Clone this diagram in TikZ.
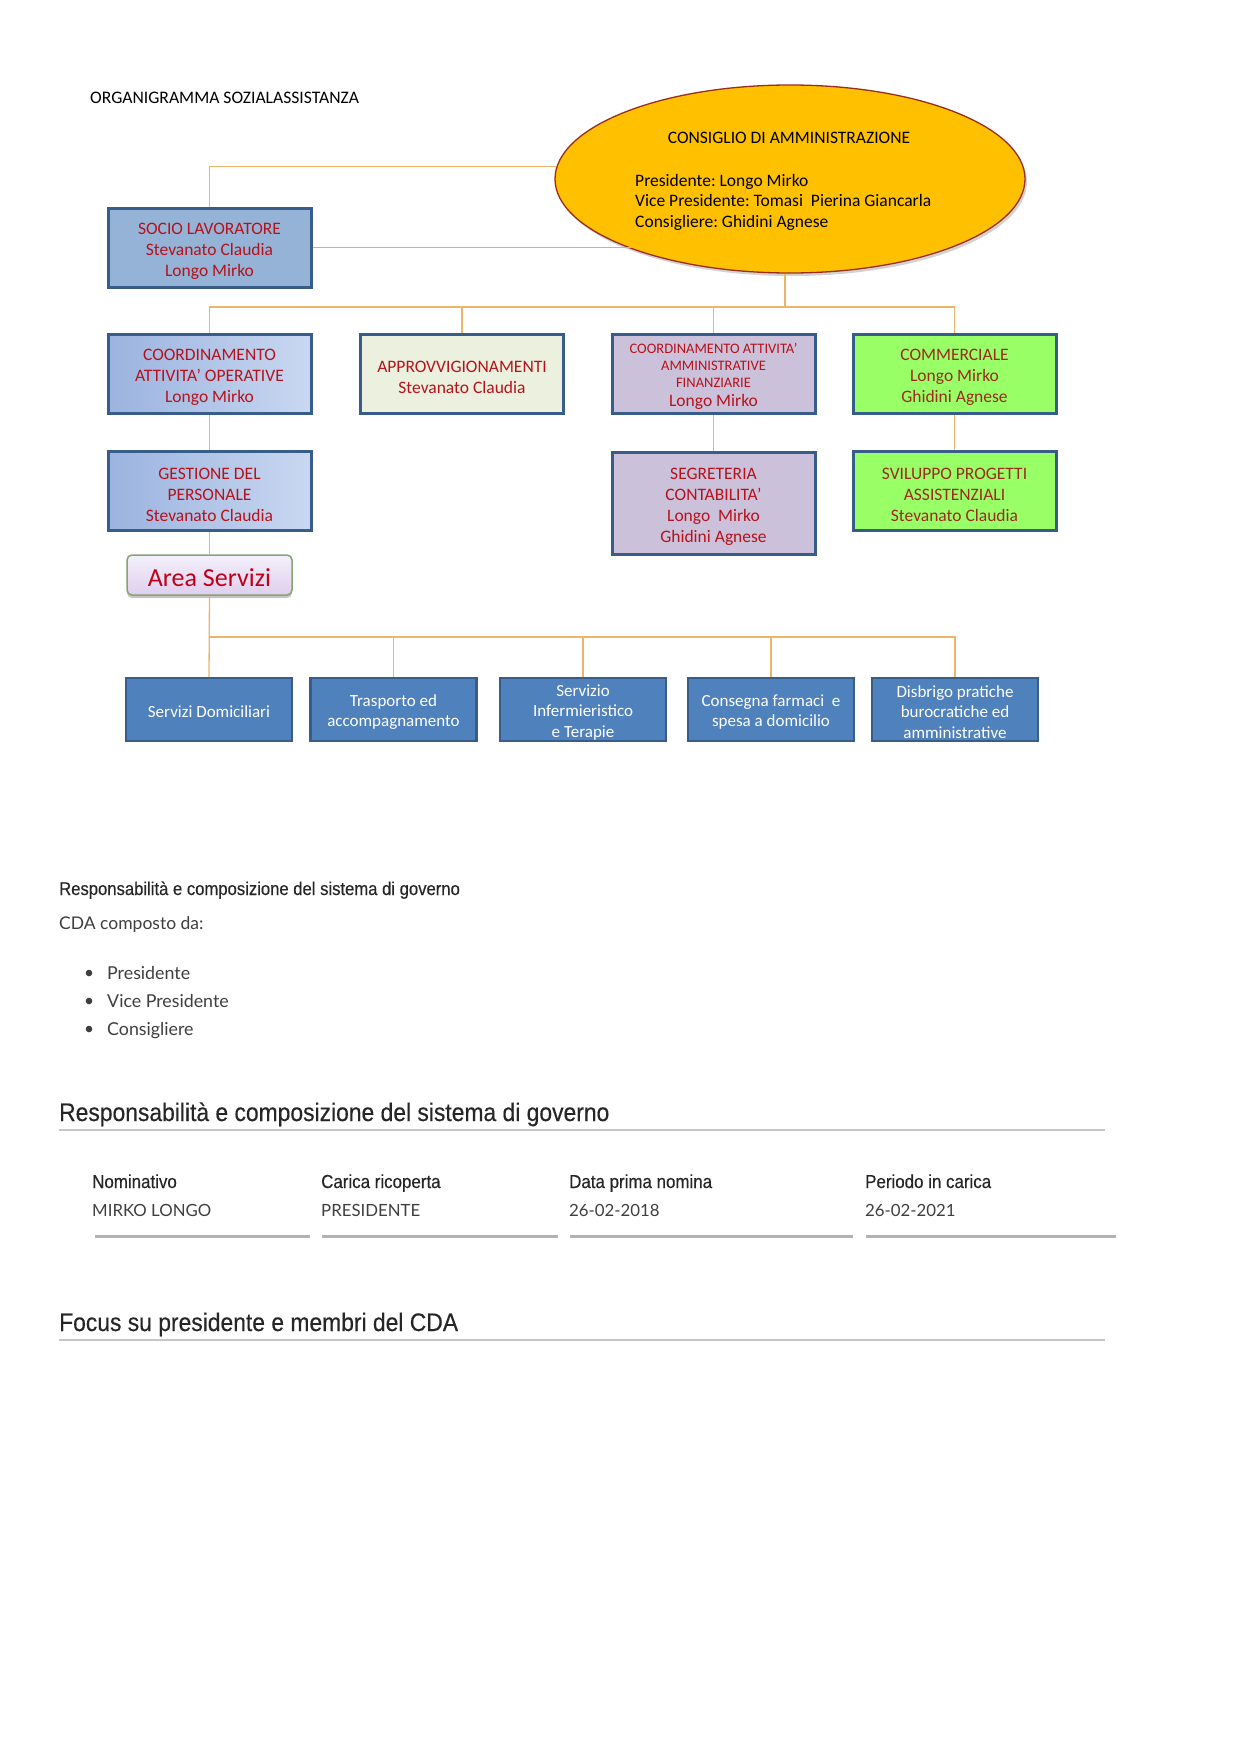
\documentclass[tikz,border=0pt]{standalone}
\usepackage{fontspec}
\setmainfont{Carlito}
\newfontfamily\headfont[FakeStretch=0.9,FakeBold=0.3]{Liberation Sans}
\newfontfamily\bodyfont{Lato}
\usetikzlibrary{shapes.geometric,shadows,calc}
\definecolor{connc}{HTML}{EDB46A}
\definecolor{boxborder}{HTML}{385D8A}
\definecolor{boxred}{HTML}{B5121B}
\definecolor{greenred}{HTML}{9C2B1E}
\definecolor{socioblue}{HTML}{95B3D7}
\definecolor{gradL}{HTML}{9BB3DF}
\definecolor{gradR}{HTML}{C9D8F1}
\definecolor{approvc}{HTML}{EBF1DE}
\definecolor{lavc}{HTML}{CCC1DA}
\definecolor{greenc}{HTML}{99FF66}
\definecolor{goldc}{HTML}{FFC000}
\definecolor{ellborder}{HTML}{9B2D1F}
\definecolor{svcblue}{HTML}{4F81BD}
\definecolor{areatop}{HTML}{F4F0FA}
\definecolor{areabot}{HTML}{DFCFEE}
\definecolor{areaborder}{HTML}{86A474}
\definecolor{areared}{HTML}{C0001A}
\definecolor{greyline}{HTML}{A7B8CC}
\definecolor{headc}{HTML}{262626}
\definecolor{bodyc}{HTML}{3F3F3F}
\definecolor{rulec}{HTML}{C6C6C6}
\definecolor{segc}{HTML}{B3B3B3}
\newcommand\tstrutx{\rule{0pt}{19pt}}
\newcommand\sstrutx{\rule{0pt}{17pt}}
\frenchspacing
\begin{document}
\begin{tikzpicture}[x=1pt,y=-1pt,
  conn/.style={draw=connc, line width=1.3},
  orgbox/.style={draw=boxborder, line width=3, minimum width=203, minimum height=79,
     inner sep=1, align=center, text=boxred, font=\fontsize{17.5}{21}\selectfont},
  svcbox/.style={draw=boxborder, line width=2.5, fill=svcblue, text=white,
     minimum width=166, minimum height=63, inner sep=0, align=center,
     font=\fontsize{17}{20.5}\selectfont},
  elltext/.style={anchor=base west, inner sep=0, font=\fontsize{17.5}{20}\selectfont},
  headtxt/.style={anchor=base west, inner sep=0, text=headc},
  bodytxt/.style={anchor=base west, inner sep=0, text=bodyc, font=\bodyfont\fontsize{17.5}{20}\selectfont},
  valtxt/.style={anchor=base west, inner sep=0, text=bodyc, font=\bodyfont\fontsize{16.8}{20}\selectfont}
]
\useasboundingbox (0,0) rectangle (1240,1755);
\fill[white] (0,0) rectangle (1240,1755);

% title
\node[anchor=base west, inner sep=0, font=\fontsize{17.6}{20}\selectfont] (title) at (90,104) {ORGANIGRAMMA SOZIALASSISTANZA};

% ellipse
\node[ellipse, draw=ellborder, line width=1.3, fill=goldc, minimum width=470, minimum height=188,
      inner sep=0, drop shadow={shadow xshift=2pt, shadow yshift=-3pt, opacity=0.35}] (cda) at (790,179) {};
\node[anchor=base, inner sep=0, font=\fontsize{17.5}{20}\selectfont] (cdat) at (789,144) {CONSIGLIO DI AMMINISTRAZIONE};
\node[elltext] (cda1) at (635,187) {Presidente: Longo Mirko};
\node[elltext] (cda2) at (635,207) {Vice Presidente: Tomasi\ \ Pierina Giancarla};
\node[elltext] (cda3) at (635,227) {Consigliere: Ghidini Agnese};

% row boxes
\node[orgbox, fill=socioblue] (socio) at (209.5,247.5) {\tstrutx SOCIO LAVORATORE\\Stevanato Claudia\\Longo Mirko};
\node[orgbox, left color=gradL, right color=gradR] (coordop) at (209.5,373.5) {\tstrutx COORDINAMENTO\\ATTIVITA’ OPERATIVE\\Longo Mirko};
\node[orgbox, fill=approvc] (approv) at (462,373.5) {\tstrutx APPROVVIGIONAMENTI\\Stevanato Claudia};
\node[orgbox, fill=lavc] (coordamm) at (713.5,373.5) {\fontsize{14.5}{17}\selectfont\rule{0pt}{16pt}COORDINAMENTO ATTIVITA’\\[-3.7pt]\fontsize{14.5}{17}\selectfont AMMINISTRATIVE\\[-3.7pt]\fontsize{14.5}{17}\selectfont FINANZIARIE\\[-2pt]\fontsize{17.5}{19}\selectfont Longo Mirko};
\node[orgbox, fill=greenc, text=greenred] (comm) at (954.5,373.5) {\tstrutx COMMERCIALE\\Longo Mirko\\Ghidini Agnese};
\node[orgbox, left color=gradL, right color=gradR] (gest) at (209.5,491) {\tstrutx GESTIONE DEL\\PERSONALE\\Stevanato Claudia};
\node[orgbox, fill=lavc, minimum height=102] (segr) at (713.5,503) {\tstrutx SEGRETERIA\\CONTABILITA’\\Longo\ \ Mirko\\Ghidini Agnese};
\node[orgbox, fill=greenc, text=greenred] (svil) at (954.5,491) {\tstrutx SVILUPPO PROGETTI\\ASSISTENZIALI\\Stevanato Claudia};

% area servizi
\node[draw=areaborder, line width=1.5, rounded corners=5, top color=areatop, bottom color=areabot,
      minimum width=165, minimum height=40, inner sep=0, text=areared,
      font=\fontsize{26}{28}\selectfont,
      drop shadow={shadow xshift=0pt, shadow yshift=-3pt, opacity=0.45}] (area) at (209.5,575) {\rule{0pt}{24pt}Area Servizi};

% service boxes
\node[svcbox] (s1) at (209,709.5) {\sstrutx Servizi Domiciliari};
\node[svcbox] (s2) at (393.5,709.5) {\sstrutx Trasporto ed\\accompagnamento};
\node[svcbox] (s3) at (583,709.5) {\sstrutx Servizio\\Infermieristico\\e Terapie};
\node[svcbox] (s4) at (771,709.5) {\sstrutx Consegna farmaci\ \ e\\spesa a domicilio};
\node[svcbox] (s5) at (955,709.5) {\sstrutx Disbrigo pratiche\\burocratiche ed\\amministrative};

% connectors top
\draw[conn] (socio.north) |- (cda.177);
\draw[greyline, line width=1.3] (socio.east) -- (socio.east -| cda.204);
\coordinate (bus) at (0,307);
\draw[conn] (coordop.north) |- (bus -| comm.north) -- (comm.north);
\draw[conn] (approv.north) -- (approv.north |- bus);
\draw[conn] (coordamm.north) -- (coordamm.north |- bus);
\draw[conn] ($(cda.south)+(-5,0)$) -- ($(cda.south |- bus)+(-5,0)$);
\draw[conn] (coordop.south) -- (gest.north);
\draw[conn] (coordamm.south) -- (segr.north);
\draw[conn] (comm.south) -- (svil.north);
\draw[conn] (gest.south) -- (area.north);
% connectors bottom
\coordinate (bus2) at (0,637);
\draw[conn] (area.south) -- (s1.north);
\draw[conn] (s1.north |- bus2) -| (s5.north);
\draw[conn] (s2.north) -- (s2.north |- bus2);
\draw[conn] (s3.north) -- (s3.north |- bus2);
\draw[conn] (s4.north) -- (s4.north |- bus2);

% lower text
\node[headtxt, font=\headfont\fontsize{18.5}{20}\selectfont] (h1) at (59,895) {Responsabilità e composizione del sistema di governo};
\node[bodytxt] (cdac) at (59,929) {CDA composto da:};
\fill[bodyc] (89,973) circle (3.3);
\fill[bodyc] (89,1001) circle (3.3);
\fill[bodyc] (89,1029) circle (3.3);
\node[bodytxt, font=\bodyfont\fontsize{17.8}{20}\selectfont] (b1) at (107,979) {Presidente};
\node[bodytxt, font=\bodyfont\fontsize{17.8}{20}\selectfont] (b2) at (107,1007) {Vice Presidente};
\node[bodytxt, font=\bodyfont\fontsize{17.8}{20}\selectfont] (b3) at (107,1035) {Consigliere};

\node[headtxt, font=\headfont\fontsize{25.4}{28}\selectfont] (h2) at (59,1121) {Responsabilità e composizione del sistema di governo};
\draw[rulec, line width=2] (59,1130) -- (1105,1130);

\node[headtxt, font=\headfont\fontsize{18.8}{20}\selectfont] (t1) at (92,1188) {Nominativo};
\node[headtxt, font=\headfont\fontsize{18.8}{20}\selectfont] (t2) at (321,1188) {Carica ricoperta};
\node[headtxt, font=\headfont\fontsize{18.8}{20}\selectfont] (t3) at (569,1188) {Data prima nomina};
\node[headtxt, font=\headfont\fontsize{18.8}{20}\selectfont] (t4) at (865,1188) {Periodo in carica};
\node[valtxt] (v1) at (92,1216) {MIRKO LONGO};
\node[valtxt] (v2) at (321,1216) {PRESIDENTE};
\node[valtxt] (v3) at (569,1216) {26-02-2018};
\node[valtxt] (v4) at (865,1216) {26-02-2021};
\draw[segc, line width=3] (95,1236) -- (310,1236);
\draw[segc, line width=3] (322,1236) -- (558,1236);
\draw[segc, line width=3] (570,1236) -- (853,1236);
\draw[segc, line width=3] (866,1236) -- (1116,1236);

\node[headtxt, font=\headfont\fontsize{25.4}{28}\selectfont] (h3) at (59,1331) {Focus su presidente e membri del CDA};
\draw[rulec, line width=2] (59,1340) -- (1105,1340);
\end{tikzpicture}
\end{document}
